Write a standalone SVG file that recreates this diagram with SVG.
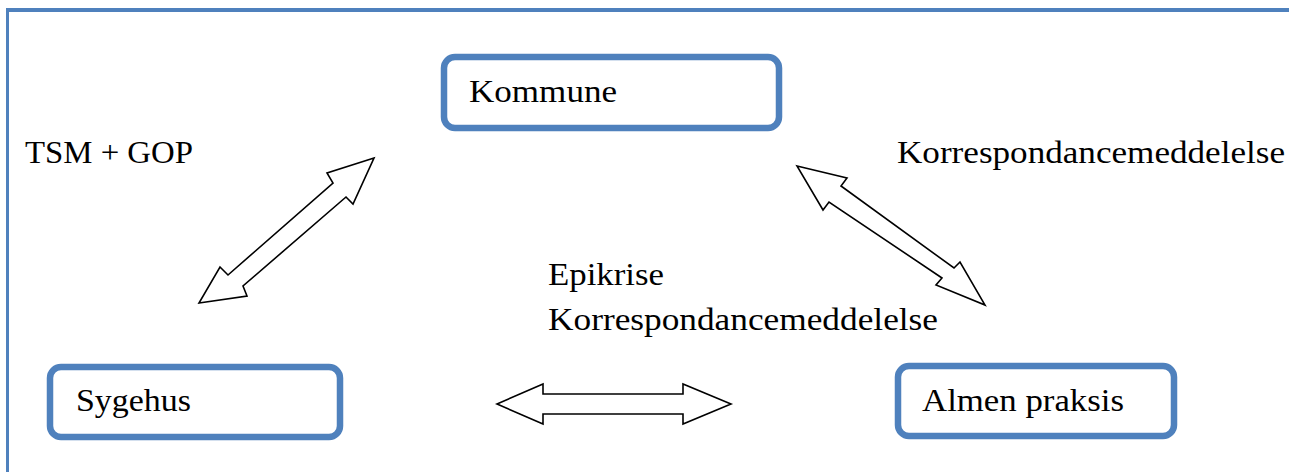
<svg xmlns="http://www.w3.org/2000/svg" width="1289" height="472" viewBox="0 0 1289 472">
  <style>
    .frame { fill: none; stroke: #4F81BD; }
    .node rect { fill: #fff; stroke: #4F81BD; stroke-width: 6.5; }
    text { font-family: "Liberation Serif", "Times New Roman", serif; font-size: 31px; fill: #000; }
    .arrow { fill: #fff; stroke: #000; stroke-width: 1.6; stroke-linejoin: miter; }
  </style>
  <rect width="1289" height="472" fill="#fff"/>

  <!-- page frame -->
  <line class="frame" x1="6" y1="10" x2="1289" y2="10" stroke-width="4"/>
  <line class="frame" x1="7.5" y1="8" x2="7.5" y2="472" stroke-width="3"/>

  <!-- nodes -->
  <g id="kommune" class="node">
    <rect x="444" y="57" width="335" height="71" rx="11"/>
    <text x="469" y="102" textLength="148" lengthAdjust="spacingAndGlyphs">Kommune</text>
  </g>
  <g id="sygehus" class="node">
    <rect x="50" y="367" width="290" height="70" rx="11"/>
    <text x="76" y="411" textLength="115" lengthAdjust="spacingAndGlyphs">Sygehus</text>
  </g>
  <g id="almen-praksis" class="node">
    <rect x="898" y="366" width="276" height="70" rx="11"/>
    <text x="922" y="411" textLength="202" lengthAdjust="spacingAndGlyphs">Almen praksis</text>
  </g>

  <!-- connectors -->
  <g id="connectors">
    <polygon class="arrow" points="374,158 327,173 333,183 228,275 220,267 199,303 247,296 243,286 346,197 353,204"/>
    <polygon class="arrow" points="797,166 847,178 841,186 954,268 960,262 985,305 936,285 942,278 829,202 823,210"/>
    <polygon class="arrow" points="497,404 543,384 543,394 683,394 683,384 731,404 683,424 683,414 543,414 543,424"/>
  </g>

  <!-- connector labels -->
  <g id="labels">
    <text x="25" y="163" textLength="168" lengthAdjust="spacingAndGlyphs">TSM + GOP</text>
    <text x="897" y="163" textLength="388" lengthAdjust="spacingAndGlyphs">Korrespondancemeddelelse</text>
    <text x="548" y="285" textLength="116" lengthAdjust="spacingAndGlyphs">Epikrise</text>
    <text x="548" y="330" textLength="390" lengthAdjust="spacingAndGlyphs">Korrespondancemeddelelse</text>
  </g>
</svg>
